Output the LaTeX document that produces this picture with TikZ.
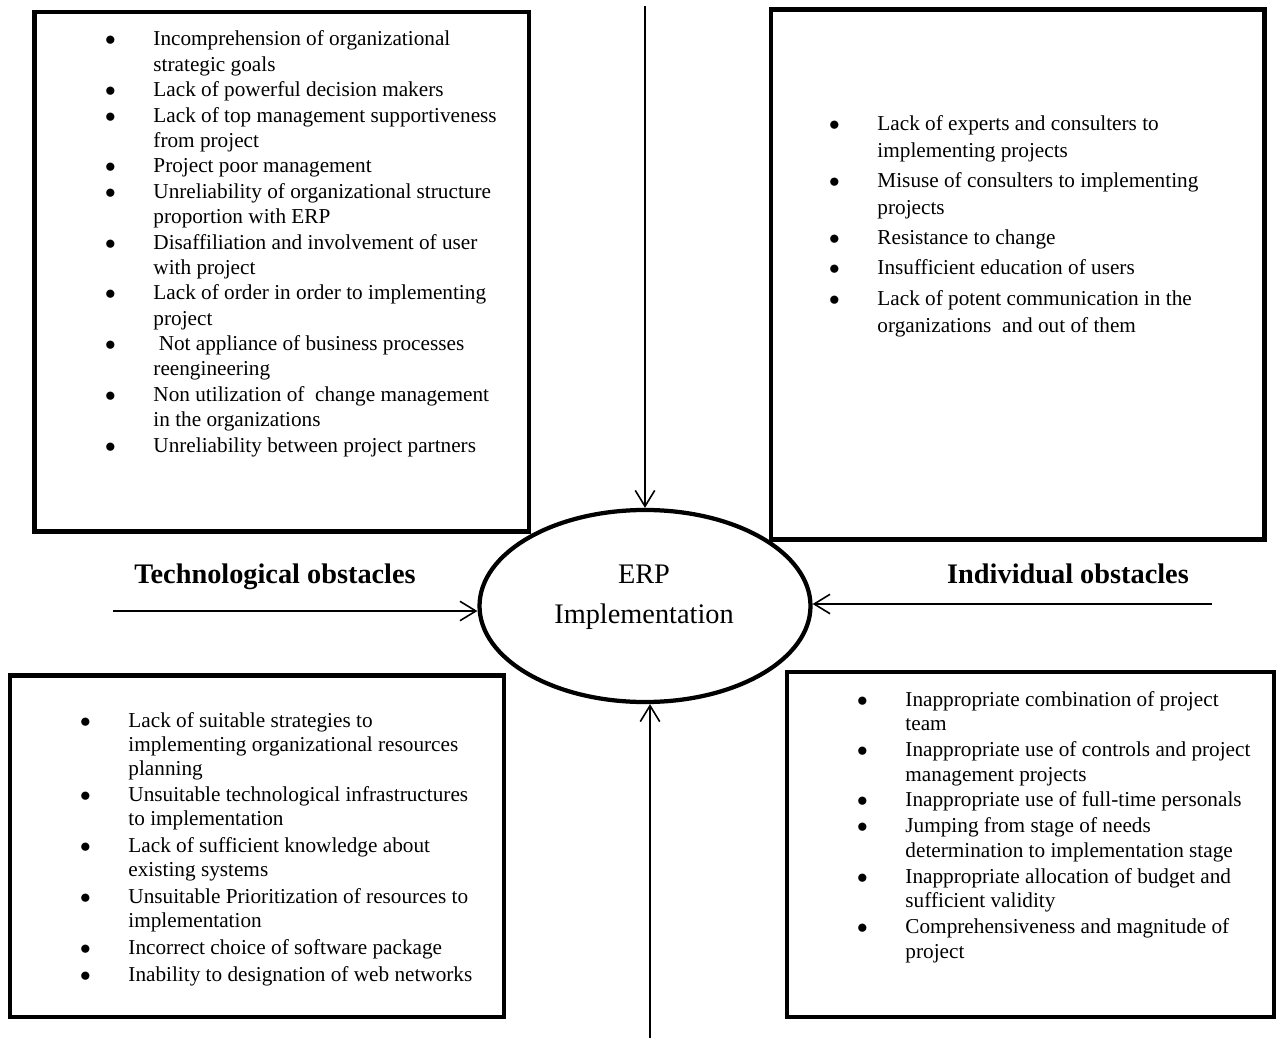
\documentclass[tikz,border=0pt]{standalone}
\usepackage{fontspec}
\setmainfont{Liberation Serif}
\usetikzlibrary{positioning,arrows.meta,fit,shapes.geometric}
\tikzset{
  obox/.style={rectangle, draw, line width=2.8pt, inner sep=0pt},
  core/.style={ellipse, draw, line width=2.4pt, minimum width=187pt,
               minimum height=108.5pt, inner sep=0pt},
  oblist/.style={anchor=base west, inner sep=0pt, font=\fontsize{12pt}{#1}\selectfont},
  head/.style={anchor=base, inner sep=0pt, font=\fontsize{16pt}{19pt}\selectfont\bfseries},
  flow/.style={-{Straight Barb[length=9pt,width=11pt]}, line width=0.9pt},
}
\newcommand{\bul}{\makebox[8pt]{$\bullet$}}

\begin{document}
\begin{tikzpicture}[x=0.565pt, y=-0.565pt]
  \useasboundingbox (0,0) rectangle (1280,1038);
  % boxes
  \node[obox, fit={(34.5,12) (529,531.5)}]   (orgbox)  {};
  \node[obox, fit={(771,9.5) (1264.5,539.5)}] (indbox)  {};
  \node[obox, fit={(10,675.5) (504,1017)}]   (techbox) {};
  \node[obox, fit={(787,672) (1274,1017)}]   (pmbox)   {};
  % centre
  \node[core] (erp) at (645,606) {};
  \node[anchor=base, inner sep=0pt, font=\fontsize{16pt}{22.6pt}\selectfont] (erptxt) at (644,583)
    {\begin{tabular}[t]{@{}c@{}}ERP\\Implementation\end{tabular}};
  \node[head] (techlbl) at (275,583) {Technological obstacles};
  \node[head] (indlbl)  at (1068,583) {Individual obstacles};
  % arrows
  \coordinate (orgsrc)  at (645,6);
  \coordinate (pmsrc)   at (650,1038);
  \coordinate (techsrc) at (113,611);
  \coordinate (indsrc)  at (1212,604);
  \draw[flow] (orgsrc)  -- (orgsrc |- erp.north);
  \draw[flow] (pmsrc)   -- (pmsrc |- erp.south);
  \draw[flow] (techsrc) -- (techsrc -| erp.west);
  \draw[flow] (indsrc)  -- (indsrc -| erp.east);
  % lists
  \node[oblist=14.34pt] (orglist) at (103,46) {\begin{tabular}[t]{@{}l@{\hspace{20.3pt}}l@{}}
    \bul & Incomprehension of organizational\\
         & strategic goals\\
    \bul & Lack of powerful decision makers\\
    \bul & Lack of top management supportiveness\\
         & from project\\
    \bul & Project poor management\\
    \bul & Unreliability of organizational structure\\
         & proportion with ERP\\
    \bul & Disaffiliation and involvement of user\\
         & with project\\
    \bul & Lack of order in order to implementing\\
         & project\\
    \bul & \ Not appliance of business processes\\
         & reengineering\\
    \bul & Non utilization of\ \ change management\\
         & in the organizations\\
    \bul & Unreliability between project partners
  \end{tabular}};
  \node[oblist=15.26pt] (indlist) at (827,130) {\begin{tabular}[t]{@{}l@{\hspace{20.3pt}}l@{}}
    \bul & Lack of experts and consulters to\\
         & implementing projects\\[1.84pt]
    \bul & Misuse of consulters to implementing\\
         & projects\\[1.84pt]
    \bul & Resistance to change\\[1.84pt]
    \bul & Insufficient education of users\\[1.84pt]
    \bul & Lack of potent communication in the\\
         & organizations\ \ and out of them
  \end{tabular}};
  \node[oblist=13.56pt] (techlist) at (78,727) {\begin{tabular}[t]{@{}l@{\hspace{20.3pt}}l@{}}
    \bul & Lack of suitable strategies to\\
         & implementing organizational resources\\
         & planning\\[1.6pt]
    \bul & Unsuitable technological infrastructures\\
         & to implementation\\[1.6pt]
    \bul & Lack of sufficient knowledge about\\
         & existing systems\\[1.6pt]
    \bul & Unsuitable Prioritization of resources to\\
         & implementation\\[1.6pt]
    \bul & Incorrect choice of software package\\[1.6pt]
    \bul & Inability to designation of web networks
  \end{tabular}};
  \node[oblist=13.9pt] (pmlist) at (855,706) {\begin{tabular}[t]{@{}l@{\hspace{20.3pt}}l@{}}
    \bul & Inappropriate combination of project\\
         & team\\[0.7pt]
    \bul & Inappropriate use of controls and project\\
         & management projects\\[0.7pt]
    \bul & Inappropriate use of full-time personals\\[0.7pt]
    \bul & Jumping from stage of needs\\
         & determination to implementation stage\\[0.7pt]
    \bul & Inappropriate allocation of budget and\\
         & sufficient validity\\[0.7pt]
    \bul & Comprehensiveness and magnitude of\\
         & project
  \end{tabular}};
\end{tikzpicture}
\end{document}
